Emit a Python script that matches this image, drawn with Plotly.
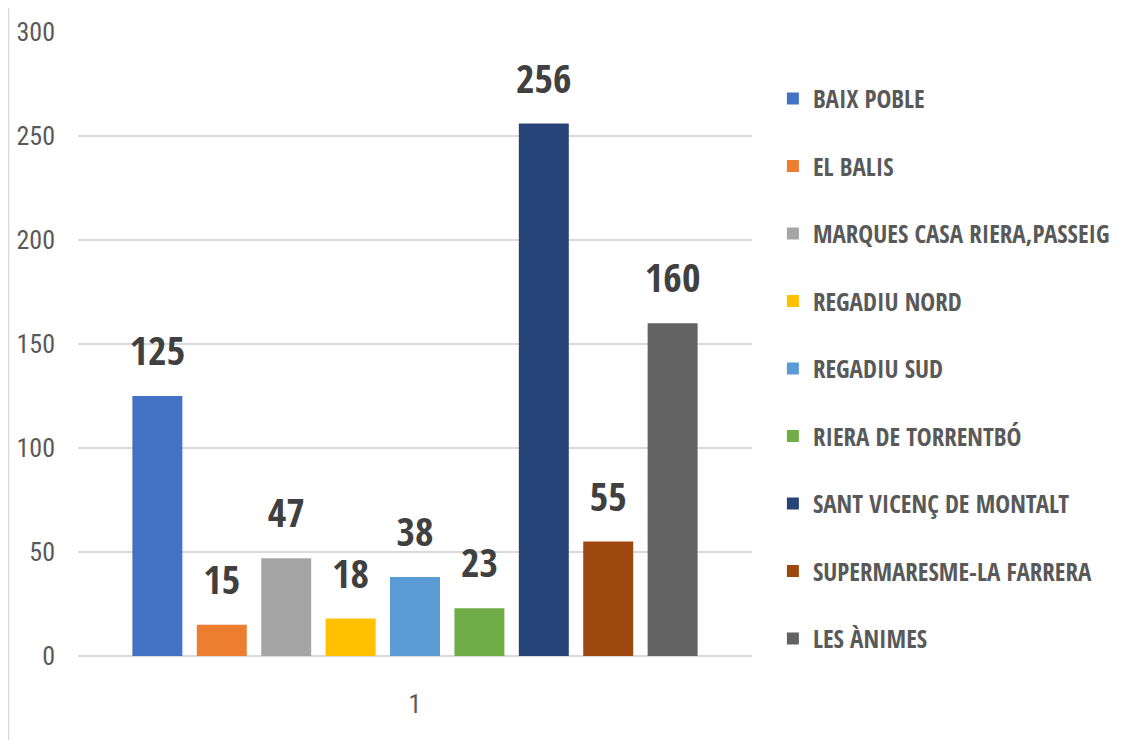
import plotly.graph_objects as go

# data
category = ["1"]
zones = [
    "BAIX POBLE",
    "EL BALIS",
    "MARQUES CASA RIERA,PASSEIG",
    "REGADIU NORD",
    "REGADIU SUD",
    "RIERA DE TORRENTBÓ",
    "SANT VICENÇ DE MONTALT",
    "SUPERMARESME-LA FARRERA",
    "LES ÀNIMES",
]
counts = [125, 15, 47, 18, 38, 23, 256, 55, 160]
colors = ["#4472C4", "#ED7D31", "#A5A5A5", "#FFC000", "#5B9BD5",
          "#70AD47", "#264478", "#9E480E", "#636363"]
y_ticks = [0, 50, 100, 150, 200, 250, 300]

bold_narrow = "Open Sans Condensed, Roboto Condensed, sans-serif"
narrow = "Roboto Condensed, Open Sans Condensed, sans-serif"

fig = go.Figure()
for i, (name, val, col) in enumerate(zip(zones, counts, colors)):
    _ = fig.add_trace(
        go.Bar(
            x=category,
            y=[val],
            name=name,
            legendgroup=f"g{i}",
            offsetgroup=f"g{i}",
            marker={'color': col, 'line': {'width': 0}},
        )
    )

# value labels, offset like the bars, floating a bit above each one
for i, (name, val) in enumerate(zip(zones, counts)):
    _ = fig.add_trace(
        go.Scatter(
            x=category,
            y=[val],
            mode="markers+text",
            offsetgroup=f"g{i}",
            text=[f"<b>{val}</b>"],
            textposition="top center",
            marker={'size': 32, 'color': 'rgba(0,0,0,0)'},
            textfont={'family': bold_narrow, 'size': 40, 'color': '#404040'},
            cliponaxis=False,
            showlegend=False,
            hoverinfo="skip",
        )
    )

_ = fig.update_yaxes(
    range=[0, 300],
    tickvals=y_ticks,
    showgrid=True,
    gridcolor="#D9D9D9",
    gridwidth=2,
    zeroline=True,
    zerolinecolor="#D9D9D9",
    zerolinewidth=2,
    showline=False,
    ticks="",
    ticklabelstandoff=22,
    tickfont={'family': narrow, 'size': 26, 'color': '#595959'},
)
_ = fig.update_xaxes(
    showline=False,
    ticks="",
    tickfont={'family': narrow, 'size': 26, 'color': '#595959'},
    ticklabelstandoff=30,
)
_ = fig.update_layout(
    width=1128,
    height=740,
    margin={'l': 70, 'r': 384, 't': 24, 'b': 92, 'autoexpand': False},
    paper_bgcolor="white",
    plot_bgcolor="white",
    barmode="group",
    bargap=0.14,
    bargroupgap=0.224,
    scattermode="group",
    scattergap=0.14,
    showlegend=True,
    legend={
        'x': 1.031, 'y': 0.93, 'xanchor': 'left', 'yanchor': 'top',
        'font': {'family': bold_narrow, 'size': 25, 'color': '#595959'},
        'tracegroupgap': 32,
        'itemwidth': 30,
        'bgcolor': 'rgba(0,0,0,0)',
    },
    shapes=[{
        'type': 'line', 'xref': 'paper', 'yref': 'paper',
        'x0': -0.1035, 'x1': -0.1035, 'y0': -0.2, 'y1': 1.1,
        'line': {'color': '#D9D9D9', 'width': 2},
    }],
)
fig.write_html("out.html")
